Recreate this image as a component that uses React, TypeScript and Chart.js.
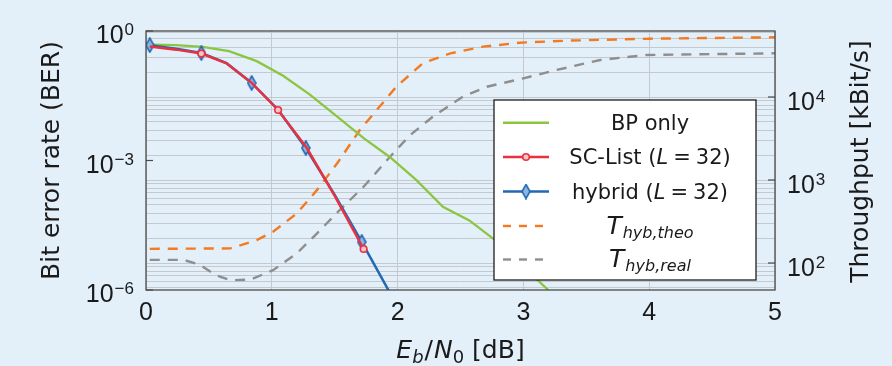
import React, { useEffect, useRef } from 'react';
import { Chart, registerables } from 'chart.js';

Chart.register(...registerables);

// ---------- data ----------
const xTicks = [0, 1, 2, 3, 4, 5];
const berTicks = [1, 1e-3, 1e-6];
const berTickExp = ['0', '\u22123', '\u22126'];
const thrTicks = [1e4, 1e3, 1e2];
const thrTickExp = ['4', '3', '2'];
const thrGridValues = [
  50, 60, 70, 80, 90,
  100, 200, 300, 400, 500, 600, 700, 800, 900,
  1000, 2000, 3000, 4000, 5000, 6000, 7000, 8000, 9000,
  10000, 20000, 30000, 40000, 50000, 60000,
];

const ebn0SCList = [0.03, 0.24, 0.44, 0.64, 0.84, 1.05, 1.28, 1.5, 1.73];
const berSCList = [0.44, 0.37, 0.3, 0.178, 0.063, 0.0148, 1.92e-3, 1.51e-4, 8.9e-6];
const scListMarkerIdx = [2, 5, 8];

const ebn0Hybrid = [0.03, 0.24, 0.44, 0.64, 0.84, 1.05, 1.27, 1.5, 1.715, 2.0];
const berHybrid = [0.47, 0.39, 0.31, 0.18, 0.0625, 0.015, 1.95e-3, 1.6e-4, 1.3e-5, 4.1e-7];
const hybridMarkerIdx = [0, 2, 4, 6, 8];

const ebn0BP = [0.03, 0.24, 0.45, 0.66, 0.88, 1.09, 1.3, 1.51, 1.73, 1.94, 2.15, 2.36, 2.57, 2.78, 2.99, 3.2];
const berBP = [0.48, 0.47, 0.43, 0.34, 0.2, 0.092, 0.034, 0.0109, 3.3e-3, 1.19e-3, 3.5e-4, 8.5e-5, 4.1e-5, 1.4e-5, 3.7e-6, 9.8e-7];

const ebn0Theo = [0.03, 0.67, 0.88, 1.01, 1.2, 1.36, 1.52, 1.7, 1.99, 2.2, 2.42, 2.68, 2.97, 3.34, 4.0, 5.0];
const thrTheo = [148, 150, 189, 238, 397, 760, 1590, 4000, 13300, 25500, 33600, 40400, 45100, 47700, 50400, 52400];

const ebn0Real = [0.03, 0.3, 0.43, 0.55, 0.67, 0.83, 1.01, 1.2, 1.36, 1.54, 1.73, 1.94, 2.1, 2.28, 2.52, 2.71, 3.0, 3.26, 3.61, 3.98, 5.0];
const thrReal = [109, 109, 95, 72, 62, 63, 82, 131, 228, 435, 830, 1910, 3480, 5790, 10100, 13300, 16800, 21100, 27900, 32100, 33600];

const legendLabels = ['BP only', 'SC-List', 'hybrid', 'T', 'T'];

// ---------- styles ----------
const BG = '#E3EFF9';
const RED = '#E8323F';
const BLUE = '#2468B4';
const GREEN = '#8CC540';
const ORANGE = '#F47A22';
const GRAY = '#8E8E8E';
const GRID = '#C3C9CF';
const FRAME = '#4A4A4A';
const TEXT = '#1A1A1A';
const NUM = '"Liberation Sans", Arial, sans-serif';
const TXT = '"DejaVu Sans", sans-serif';

type Seg = { t: string; font: string; dy?: number; gap?: number };

function drawRich(ctx: CanvasRenderingContext2D, segs: Seg[], x: number, y: number, align: 'left' | 'center' | 'right') {
  let w = 0;
  for (const s of segs) {
    ctx.font = s.font;
    w += ctx.measureText(s.t).width + (s.gap || 0);
  }
  let cx = align === 'center' ? x - w / 2 : align === 'right' ? x - w : x;
  ctx.textAlign = 'left';
  ctx.textBaseline = 'alphabetic';
  for (const s of segs) {
    ctx.font = s.font;
    ctx.fillText(s.t, cx, y + (s.dy || 0));
    cx += ctx.measureText(s.t).width + (s.gap || 0);
  }
}

function makeDiamond(fill: string, stroke: string, w: number, h: number) {
  const c = document.createElement('canvas');
  c.width = w + 2;
  c.height = h + 2;
  const g = c.getContext('2d')!;
  g.beginPath();
  g.moveTo(c.width / 2, 1);
  g.lineTo(c.width - 1, c.height / 2);
  g.lineTo(c.width / 2, c.height - 1);
  g.lineTo(1, c.height / 2);
  g.closePath();
  g.fillStyle = fill;
  g.fill();
  g.lineWidth = 1.6;
  g.strokeStyle = stroke;
  g.stroke();
  return c;
}

export default function App() {
  const ref = useRef<HTMLCanvasElement | null>(null);

  useEffect(() => {
    document.body.style.margin = '0';
    document.body.style.background = BG;
    const canvas = ref.current!;
    const diamond = makeDiamond('#8DB6E2', BLUE, 8, 14);

    const decor = {
      id: 'decor',
      afterDraw(chart: any) {
        const ctx: CanvasRenderingContext2D = chart.ctx;
        const a = chart.chartArea;
        const xs = chart.scales.x;
        const yl = chart.scales.y;
        const yr = chart.scales.y2;
        ctx.save();

        // inner major tick marks
        ctx.strokeStyle = FRAME;
        ctx.lineWidth = 1.2;
        for (const v of berTicks) {
          const py = yl.getPixelForValue(v);
          ctx.beginPath();
          ctx.moveTo(a.left, py);
          ctx.lineTo(a.left + 7, py);
          ctx.stroke();
        }
        for (const v of thrTicks) {
          const py = yr.getPixelForValue(v);
          ctx.beginPath();
          ctx.moveTo(a.right, py);
          ctx.lineTo(a.right - 7, py);
          ctx.stroke();
        }

        // frame
        ctx.lineWidth = 1.3;
        ctx.strokeRect(a.left, a.top, a.right - a.left, a.bottom - a.top);

        ctx.fillStyle = TEXT;
        // x tick labels
        ctx.font = `25px ${NUM}`;
        ctx.textAlign = 'center';
        ctx.textBaseline = 'alphabetic';
        for (const v of xTicks) {
          ctx.fillText(String(v), xs.getPixelForValue(v), 320);
        }
        // left tick labels
        berTicks.forEach((v, i) => {
          const py = yl.getPixelForValue(v);
          drawRich(ctx, [
            { t: '10', font: `25px ${NUM}`, gap: 1 },
            { t: berTickExp[i], font: `17px ${NUM}`, dy: -8 },
          ], 134, py + 12, 'right');
        });
        // right tick labels
        thrTicks.forEach((v, i) => {
          const py = yr.getPixelForValue(v);
          drawRich(ctx, [
            { t: '10', font: `25px ${NUM}`, gap: 1 },
            { t: thrTickExp[i], font: `17px ${NUM}`, dy: -8 },
          ], 787, py + 13, 'left');
        });

        // axis titles
        const cy = (a.top + a.bottom) / 2;
        ctx.save();
        ctx.translate(59, cy);
        ctx.rotate(-Math.PI / 2);
        ctx.font = `25px ${TXT}`;
        ctx.textAlign = 'center';
        ctx.textBaseline = 'alphabetic';
        ctx.fillText('Bit error rate (BER)', 0, 0);
        ctx.restore();

        ctx.save();
        ctx.translate(868, cy + 1);
        ctx.rotate(-Math.PI / 2);
        ctx.font = `25px ${TXT}`;
        ctx.textAlign = 'center';
        ctx.textBaseline = 'alphabetic';
        ctx.fillText('Throughput [kBit/s]', 0, 0);
        ctx.restore();

        drawRich(ctx, [
          { t: 'E', font: `italic 25px ${TXT}`, gap: 0 },
          { t: 'b', font: `italic 18px ${TXT}`, dy: 5, gap: 1 },
          { t: '/', font: `25px ${TXT}`, gap: 1 },
          { t: 'N', font: `italic 25px ${TXT}` },
          { t: '0', font: `18px ${TXT}`, dy: 5 },
          { t: ' [dB]', font: `25px ${TXT}` },
        ], (a.left + a.right) / 2, 358, 'center');

        // legend
        const lx = 494, ly = 100, lw = 262, lh = 180;
        ctx.fillStyle = '#FFFFFF';
        ctx.fillRect(lx, ly, lw, lh);
        ctx.strokeStyle = '#1E1E1E';
        ctx.lineWidth = 1.3;
        ctx.strokeRect(lx, ly, lw, lh);

        const rows = [122.7, 157, 191.5, 226, 259.5];
        const sx0 = 503, sx1 = 549, mx = 526;
        // BP only
        ctx.setLineDash([]);
        ctx.lineWidth = 2.4;
        ctx.strokeStyle = GREEN;
        ctx.beginPath(); ctx.moveTo(sx0, rows[0]); ctx.lineTo(sx1, rows[0]); ctx.stroke();
        // SC-List
        ctx.strokeStyle = RED;
        ctx.beginPath(); ctx.moveTo(sx0, rows[1]); ctx.lineTo(sx1, rows[1]); ctx.stroke();
        ctx.beginPath(); ctx.arc(mx, rows[1], 3.3, 0, Math.PI * 2);
        ctx.fillStyle = '#F7C3C8'; ctx.fill(); ctx.lineWidth = 1.6; ctx.stroke();
        // hybrid
        ctx.lineWidth = 2.4;
        ctx.strokeStyle = BLUE;
        ctx.beginPath(); ctx.moveTo(sx0, rows[2]); ctx.lineTo(sx1, rows[2]); ctx.stroke();
        ctx.drawImage(diamond, mx - diamond.width / 2, rows[2] - diamond.height / 2);
        // dashed
        ctx.lineWidth = 2.4;
        ctx.setLineDash([8, 8]);
        ctx.strokeStyle = ORANGE;
        ctx.beginPath(); ctx.moveTo(sx0, rows[3]); ctx.lineTo(sx0 + 40, rows[3]); ctx.stroke();
        ctx.strokeStyle = GRAY;
        ctx.beginPath(); ctx.moveTo(sx0, rows[4]); ctx.lineTo(sx0 + 40, rows[4]); ctx.stroke();
        ctx.setLineDash([]);

        ctx.fillStyle = TEXT;
        const tcx = 650;
        drawRich(ctx, [{ t: legendLabels[0], font: `21px ${TXT}` }], tcx, 129.5, 'center');
        drawRich(ctx, [
          { t: legendLabels[1] + ' (', font: `21px ${TXT}` },
          { t: 'L', font: `italic 21px ${TXT}`, gap: 5 },
          { t: '=', font: `21px ${TXT}`, gap: 5 },
          { t: '32)', font: `21px ${TXT}` },
        ], tcx, 164.3, 'center');
        drawRich(ctx, [
          { t: legendLabels[2] + ' (', font: `21px ${TXT}` },
          { t: 'L', font: `italic 21px ${TXT}`, gap: 5 },
          { t: '=', font: `21px ${TXT}`, gap: 5 },
          { t: '32)', font: `21px ${TXT}` },
        ], tcx, 199.3, 'center');
        drawRich(ctx, [
          { t: legendLabels[3], font: `italic 25px ${TXT}`, gap: 1 },
          { t: 'hyb,theo', font: `italic 16px ${TXT}`, dy: 4 },
        ], tcx, 234, 'center');
        drawRich(ctx, [
          { t: legendLabels[4], font: `italic 25px ${TXT}`, gap: 1 },
          { t: 'hyb,real', font: `italic 16px ${TXT}`, dy: 4 },
        ], tcx, 266.5, 'center');

        ctx.restore();
      },
    };

    const toPts = (xs: number[], ys: number[]) => xs.map((x, i) => ({ x, y: ys[i] }));

    const chart = new Chart(canvas, {
      type: 'line',
      data: {
        datasets: [
          {
            label: 'SC-List (L = 32)',
            data: toPts(ebn0SCList, berSCList),
            yAxisID: 'y',
            borderColor: RED,
            borderWidth: 2.5,
            pointStyle: 'circle',
            pointRadius: ebn0SCList.map((_, i) => (scListMarkerIdx.includes(i) ? 3.3 : 0)),
            pointBackgroundColor: '#F7C3C8',
            pointBorderColor: RED,
            pointBorderWidth: 1.6,
            tension: 0,
          },
          {
            label: 'hybrid (L = 32)',
            data: toPts(ebn0Hybrid, berHybrid),
            yAxisID: 'y',
            borderColor: BLUE,
            borderWidth: 2.5,
            pointStyle: diamond as any,
            pointRadius: ebn0Hybrid.map((_, i) => (hybridMarkerIdx.includes(i) ? 5 : 0)),
            tension: 0,
          },
          {
            label: 'BP only',
            data: toPts(ebn0BP, berBP),
            yAxisID: 'y',
            borderColor: GREEN,
            borderWidth: 2.3,
            pointRadius: 0,
            tension: 0,
          },
          {
            label: 'T_hyb,theo',
            data: toPts(ebn0Theo, thrTheo),
            yAxisID: 'y2',
            borderColor: ORANGE,
            borderWidth: 2.4,
            borderDash: [10, 8],
            pointRadius: 0,
            tension: 0,
          },
          {
            label: 'T_hyb,real',
            data: toPts(ebn0Real, thrReal),
            yAxisID: 'y2',
            borderColor: GRAY,
            borderWidth: 2.4,
            borderDash: [10, 8],
            pointRadius: 0,
            tension: 0,
          },
        ],
      },
      options: {
        animation: false,
        responsive: false,
        devicePixelRatio: 1,
        events: [],
        layout: { padding: { top: 31, left: 0, right: 0, bottom: 0 } },
        plugins: { legend: { display: false }, tooltip: { enabled: false } },
        scales: {
          x: {
            type: 'linear',
            min: 0,
            max: 5,
            ticks: { display: false, stepSize: 1 },
            grid: { color: GRID, lineWidth: 1, drawTicks: false },
            border: { display: false },
            afterFit: (s: any) => { s.height = 76; },
          },
          y: {
            type: 'logarithmic',
            position: 'left',
            min: 1e-6,
            max: 1,
            ticks: { display: false },
            grid: { display: false, drawTicks: false },
            border: { display: false },
            afterFit: (s: any) => { s.width = 146; },
          },
          y2: {
            type: 'logarithmic',
            position: 'right',
            min: 47.3,
            max: 62400,
            ticks: { display: false },
            grid: { color: GRID, lineWidth: 1, drawTicks: false },
            border: { display: false },
            afterBuildTicks: (s: any) => { s.ticks = thrGridValues.map((v) => ({ value: v })); },
            afterFit: (s: any) => { s.width = 117; },
          },
        },
      } as any,
      plugins: [decor],
    });

    return () => chart.destroy();
  }, []);

  return (
    <div style={{ position: 'absolute', left: 0, top: 0, width: 892, height: 366, background: BG }}>
      <canvas ref={ref} width={892} height={366} style={{ display: 'block', width: 892, height: 366 }} />
    </div>
  );
}
